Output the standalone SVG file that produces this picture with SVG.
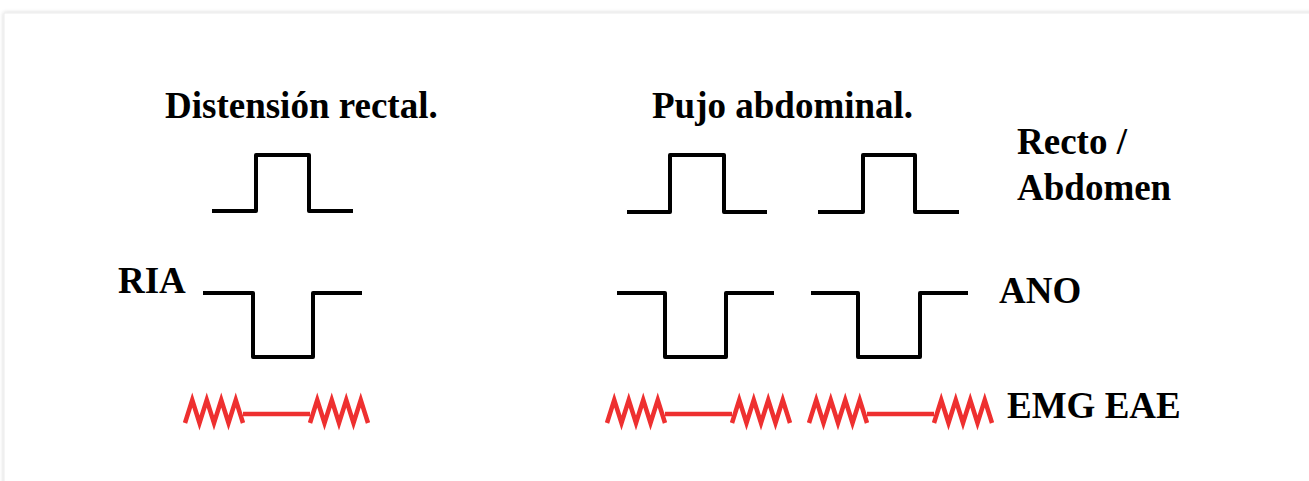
<svg xmlns="http://www.w3.org/2000/svg" width="1309" height="481" viewBox="0 0 1309 481">
  <defs>
    <filter id="cardShadow" x="-5%" y="-10%" width="110%" height="120%">
      <feGaussianBlur in="SourceAlpha" stdDeviation="2"/>
      <feOffset dx="0" dy="0"/>
      <feComponentTransfer><feFuncA type="linear" slope="0.18"/></feComponentTransfer>
      <feMerge><feMergeNode/><feMergeNode in="SourceGraphic"/></feMerge>
    </filter>
    <!-- one burst of muscle activity: four spikes -->
    <path id="burst" d="M0,23 L7.25,0 L14.5,23 L21.75,0 L29,23 L36.25,0 L43.5,23 L50.75,0 L58,23"/>
  </defs>
  <style>
    .lbl { font-family: "Liberation Serif", "Times New Roman", serif; font-weight: bold; font-size: 37px; fill: #000; }
    .pulse { fill: none; stroke: #000; stroke-width: 4; stroke-linejoin: round; }
    .emg { fill: none; stroke: #ee3030; stroke-width: 4.5; stroke-linejoin: miter; }
  </style>

  <rect width="1309" height="481" fill="#fff"/>
  <rect x="4" y="13" width="1320" height="480" fill="#fff" stroke="#ececec" stroke-width="1" filter="url(#cardShadow)"/>

  <!-- headings -->
  <g id="title-distension"><text class="lbl" x="165" y="118">Distensión rectal.</text></g>
  <g id="title-pujo"><text class="lbl" x="652" y="118">Pujo abdominal.</text></g>

  <!-- row labels -->
  <g id="label-recto"><text class="lbl" x="1017" y="154">Recto /</text><text class="lbl" x="1017" y="200">Abdomen</text></g>
  <g id="label-ria"><text class="lbl" x="118" y="293">RIA</text></g>
  <g id="label-ano"><text class="lbl" x="999" y="303">ANO</text></g>
  <g id="label-emg"><text class="lbl" x="1007" y="418">EMG EAE</text></g>

  <!-- rectal / abdominal pressure traces -->
  <g id="recto-1"><path class="pulse" d="M212,211 H256 V155 H309 V211 H353"/></g>
  <g id="recto-2"><path class="pulse" d="M627,212 H670 V155 H724 V212 H767"/></g>
  <g id="recto-3"><path class="pulse" d="M818,212 H863 V155 H915 V212 H959"/></g>

  <!-- anal pressure traces -->
  <g id="ano-1"><path class="pulse" d="M203,293 H253 V357 H313 V293 H362"/></g>
  <g id="ano-2"><path class="pulse" d="M617,293 H665 V357 H726 V293 H774"/></g>
  <g id="ano-3"><path class="pulse" d="M811,293 H858 V357 H920 V293 H968"/></g>

  <!-- external anal sphincter EMG -->
  <g id="emg-1" class="emg">
    <use href="#burst" transform="translate(185,400)"/>
    <line x1="243" y1="414" x2="310" y2="414"/>
    <use href="#burst" transform="translate(310,400)"/>
  </g>
  <g id="emg-2" class="emg">
    <use href="#burst" transform="translate(607,400)"/>
    <line x1="665" y1="414" x2="732" y2="414"/>
    <use href="#burst" transform="translate(732,400)"/>
  </g>
  <g id="emg-3" class="emg">
    <use href="#burst" transform="translate(809,400)"/>
    <line x1="867" y1="414" x2="934" y2="414"/>
    <use href="#burst" transform="translate(934,400)"/>
  </g>
</svg>
